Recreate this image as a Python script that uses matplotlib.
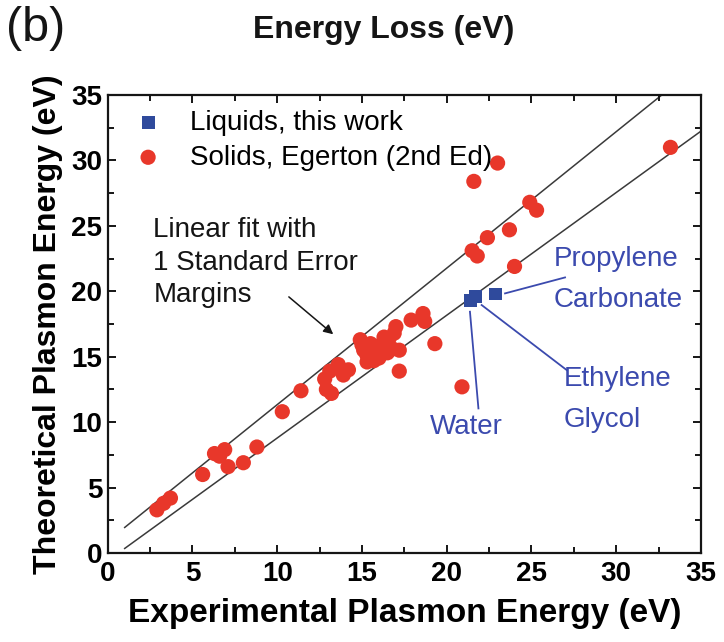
import numpy as np
import matplotlib
matplotlib.use("Agg")
import matplotlib.pyplot as plt

plt.rcParams['font.family'] = ['Liberation Sans', 'DejaVu Sans']

# Solids (Egerton, 2nd ed.): experimental vs theoretical plasmon energy (eV)
solids_exp = [2.9, 3.3, 3.7, 5.6, 6.3, 6.9, 6.6, 7.1, 8.0, 8.8,
              10.3, 11.4, 12.8, 12.9, 13.2, 13.1, 13.6, 14.2, 13.9, 14.9,
              15.1, 15.3, 15.7, 15.9, 16.3, 16.6, 17.0, 17.2, 17.2, 17.9,
              18.6, 18.7, 16.5, 15.9, 15.5, 16.3, 16.9, 15.3, 19.3, 20.9,
              21.5, 21.8, 22.4, 23.7, 24.0, 24.9, 25.3, 21.6, 23.0, 33.2,
              15.0, 16.0, 16.8]
solids_theo = [3.3, 3.8, 4.2, 6.0, 7.6, 7.9, 7.4, 6.6, 6.9, 8.1,
               10.8, 12.4, 13.3, 12.5, 12.2, 13.9, 14.4, 14.0, 13.6, 16.3,
               15.5, 15.1, 14.7, 15.8, 16.0, 16.4, 17.3, 15.5, 13.9, 17.8,
               18.3, 17.7, 15.3, 15.0, 16.0, 16.5, 16.8, 14.6, 16.0, 12.7,
               23.1, 22.7, 24.1, 24.7, 21.9, 26.8, 26.2, 28.4, 29.8, 31.0,
               15.9, 14.9, 15.6]

# Liquids measured here: water, ethylene glycol, propylene carbonate
liquid_names = ['Water', 'Ethylene Glycol', 'Propylene Carbonate']
liquid_exp = [21.4, 21.7, 22.9]
liquid_theo = [19.3, 19.6, 19.8]

# Linear fit with 1 standard error margins (intercept, slope)
fit_upper = (0.91, 1.043)
fit_lower = (-0.59, 0.938)
fit_x = np.array([1.0, 35.0])

red = '#e8372a'
blue_mark = '#2f4a9c'
blue_text = '#3b4aae'
ink = '#151515'

fig = plt.figure(figsize=(7.24, 6.42), dpi=100)
ax = fig.add_axes([0.1488, 0.1386, 0.8194, 0.7134])

for b0, b1 in (fit_upper, fit_lower):
    ax.plot(fit_x, b0 + b1 * fit_x, color='#3a3a3a', lw=1.1, zorder=1)

ax.scatter(solids_exp, solids_theo, s=120, marker='o', color=red,
           edgecolors='none', zorder=3, label='Solids, Egerton (2nd Ed)')
ax.scatter(liquid_exp, liquid_theo, s=85, marker='s', color=blue_mark,
           edgecolors='none', zorder=4, label='Liquids, this work')

ax.set_xlim(0, 35)
ax.set_ylim(0, 35)
ax.set_xticks(np.arange(0, 36, 5))
ax.set_yticks(np.arange(0, 36, 5))
ax.set_xticks(np.arange(0, 36, 2.5), minor=True)
ax.set_yticks(np.arange(0, 36, 2.5), minor=True)
ax.tick_params(which='both', direction='in', top=True, right=True,
               width=1.4, color=ink)
ax.tick_params(which='major', length=6, labelsize=20, pad=6)
ax.tick_params(which='minor', length=4.5)
ax.tick_params(axis='y', pad=4)
for lab in ax.get_xticklabels() + ax.get_yticklabels():
    lab.set_fontweight('bold')
for sp in ax.spines.values():
    sp.set_linewidth(1.6)
    sp.set_color(ink)

ax.set_xlabel('Experimental Plasmon Energy (eV)', fontsize=24,
              fontweight='bold', labelpad=8)
ax.set_ylabel('Theoretical Plasmon Energy (eV)', fontsize=23,
              fontweight='bold', labelpad=6)

handles, labels = ax.get_legend_handles_labels()
ax.legend(handles[::-1], labels[::-1], loc='upper left',
          bbox_to_anchor=(0.054, 0.968), frameon=False, fontsize=20,
          handlelength=0.6, handletextpad=1.2, labelspacing=0.32,
          borderpad=0, borderaxespad=0, scatterpoints=1)

ax.text(2.69, 22.18, 'Linear fit with\n1 Standard Error\nMargins',
        fontsize=20, ha='left', va='center', linespacing=1.32, color=ink)
ax.annotate('', xy=(13.43, 16.58), xytext=(10.56, 19.71),
            arrowprops=dict(arrowstyle='-|>', color=ink, lw=1.1,
                            mutation_scale=14))

# leader lines from the liquid points to their names
ax.plot([23.44, 26.98], [19.84, 21.06], color=blue_text, lw=1.3, zorder=2)
ax.plot([21.37, 21.87], [18.44, 11.05], color=blue_text, lw=1.3, zorder=2)
ax.plot([22.06, 27.08], [18.95, 13.98], color=blue_text, lw=1.3, zorder=2)

ax.text(26.33, 22.44, 'Propylene', fontsize=20, color=blue_text, va='center')
ax.text(26.29, 19.33, 'Carbonate', fontsize=20, color=blue_text, va='center')
ax.text(26.88, 13.27, 'Ethylene', fontsize=20, color=blue_text, va='center')
ax.text(26.88, 10.16, 'Glycol', fontsize=20, color=blue_text, va='center')
ax.text(21.13, 9.65, 'Water', fontsize=20, color=blue_text, va='center',
        ha='center')

fig.text(0.530, 0.953, 'Energy Loss (eV)', fontsize=23, fontweight='bold',
         ha='center', va='center', color=ink)
fig.text(0.008, 0.955, '(b)', fontsize=35, ha='left', va='center', color=ink)

fig.savefig('out.png', dpi=100)
